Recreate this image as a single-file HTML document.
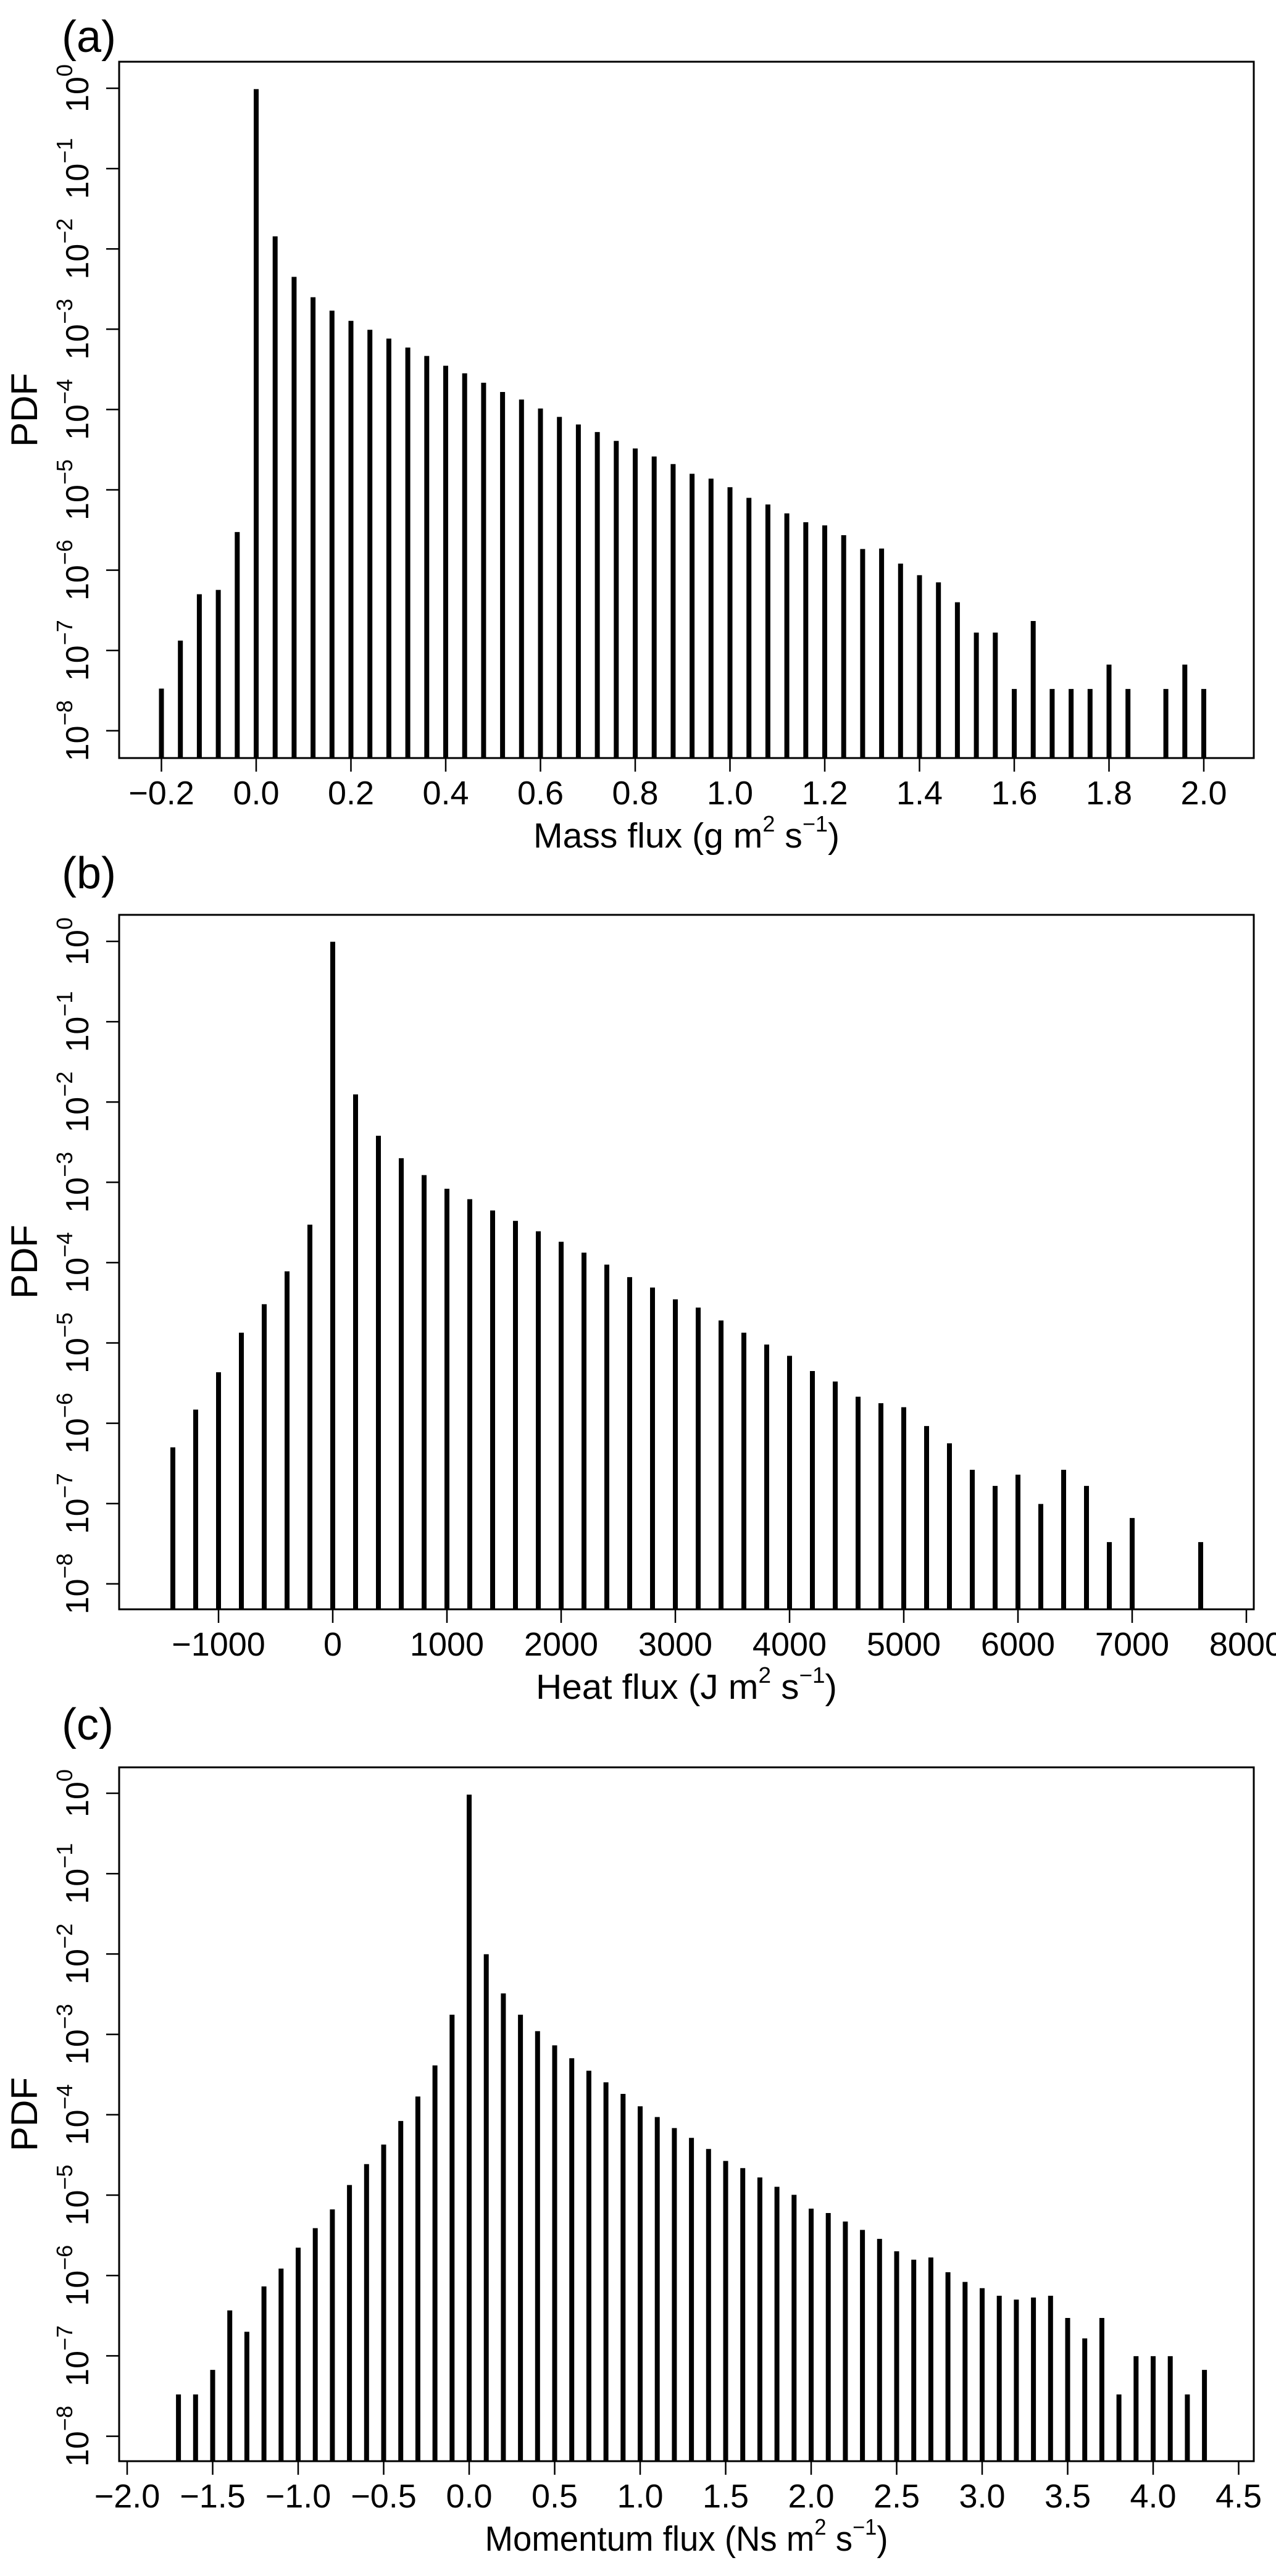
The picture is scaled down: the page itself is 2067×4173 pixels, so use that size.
<!DOCTYPE html>
<html><head><meta charset="utf-8"><style>
html,body{margin:0;padding:0;background:#fff}
svg{display:block}
text{font-family:"Liberation Sans",Arial,sans-serif;fill:#000}
</style></head><body>
<svg width="2067" height="4173" viewBox="0 0 2067 4173" xmlns="http://www.w3.org/2000/svg">
<rect width="2067" height="4173" fill="#fff"/>

<!-- ================= PANEL A ================= -->
<text x="100" y="84" font-size="72">(a)</text>
<rect x="193" y="100" width="1838" height="1128" fill="none" stroke="#000" stroke-width="3"/>
<g transform="translate(415,143) scale(767.5,-130.1)">
<path fill="none" stroke="#000" stroke-width="8" vector-effect="non-scaling-stroke" d="M-0.2 -8.34V-7.475M-0.16 -8.34V-6.877M-0.12 -8.34V-6.30M-0.08 -8.34V-6.246M-0.04 -8.34V-5.526M0 -8.34V-0.011M0.04 -8.34V-1.844M0.08 -8.34V-2.348M0.12 -8.34V-2.602M0.16 -8.34V-2.769M0.2 -8.34V-2.896M0.24 -8.34V-3.007M0.28 -8.34V-3.117M0.32 -8.34V-3.228M0.36 -8.34V-3.333M0.4 -8.34V-3.455M0.44 -8.34V-3.549M0.48 -8.34V-3.666M0.52 -8.34V-3.782M0.56 -8.34V-3.876M0.6 -8.34V-3.987M0.64 -8.34V-4.092M0.68 -8.34V-4.186M0.72 -8.34V-4.28M0.76 -8.34V-4.391M0.8 -8.34V-4.485M0.84 -8.34V-4.585M0.88 -8.34V-4.679M0.92 -8.34V-4.80M0.96 -8.34V-4.861M1 -8.34V-4.967M1.04 -8.34V-5.10M1.08 -8.34V-5.183M1.12 -8.34V-5.293M1.16 -8.34V-5.404M1.2 -8.34V-5.443M1.24 -8.34V-5.565M1.28 -8.34V-5.737M1.32 -8.34V-5.731M1.36 -8.34V-5.919M1.4 -8.34V-6.063M1.44 -8.34V-6.152M1.48 -8.34V-6.40M1.52 -8.34V-6.777M1.56 -8.34V-6.777M1.6 -8.34V-7.48M1.64 -8.34V-6.633M1.68 -8.34V-7.48M1.72 -8.34V-7.48M1.76 -8.34V-7.48M1.8 -8.34V-7.176M1.84 -8.34V-7.48M1.92 -8.34V-7.48M1.96 -8.34V-7.176M2 -8.34V-7.48"/>
</g>
<path stroke="#000" stroke-width="2.5" fill="none" d="M172 143H193M172 273.1H193M172 403.2H193M172 533.3H193M172 663.4H193M172 793.5H193M172 923.6H193M172 1053.7H193M172 1183.8H193
M261.5 1228V1250M415 1228V1250M568.5 1228V1250M722 1228V1250M875.5 1228V1250M1029 1228V1250M1182.5 1228V1250M1336 1228V1250M1489.5 1228V1250M1643 1228V1250M1796.5 1228V1250M1950 1228V1250"/>
<g font-size="54" text-anchor="middle">
<text x="261.5" y="1303">−0.2</text><text x="415" y="1303">0.0</text><text x="568.5" y="1303">0.2</text><text x="722" y="1303">0.4</text><text x="875.5" y="1303">0.6</text><text x="1029" y="1303">0.8</text><text x="1182.5" y="1303">1.0</text><text x="1336" y="1303">1.2</text><text x="1489.5" y="1303">1.4</text><text x="1643" y="1303">1.6</text><text x="1796.5" y="1303">1.8</text><text x="1950" y="1303">2.0</text>
</g>
<g font-size="52" text-anchor="middle">
<text transform="translate(143,143) rotate(-90)">10<tspan dy="-26" font-size="36">0</tspan></text>
<text transform="translate(143,273.1) rotate(-90)">10<tspan dy="-26" font-size="36">−1</tspan></text>
<text transform="translate(143,403.2) rotate(-90)">10<tspan dy="-26" font-size="36">−2</tspan></text>
<text transform="translate(143,533.3) rotate(-90)">10<tspan dy="-26" font-size="36">−3</tspan></text>
<text transform="translate(143,663.4) rotate(-90)">10<tspan dy="-26" font-size="36">−4</tspan></text>
<text transform="translate(143,793.5) rotate(-90)">10<tspan dy="-26" font-size="36">−5</tspan></text>
<text transform="translate(143,923.6) rotate(-90)">10<tspan dy="-26" font-size="36">−6</tspan></text>
<text transform="translate(143,1053.7) rotate(-90)">10<tspan dy="-26" font-size="36">−7</tspan></text>
<text transform="translate(143,1183.8) rotate(-90)">10<tspan dy="-26" font-size="36">−8</tspan></text>
</g>
<text transform="translate(60,664) rotate(-90)" font-size="60" text-anchor="middle">PDF</text>
<text x="1112" y="1373" font-size="57" text-anchor="middle" textLength="496" lengthAdjust="spacingAndGlyphs">Mass flux (g m<tspan dy="-26" font-size="36">2</tspan><tspan dy="26"> s</tspan><tspan dy="-26" font-size="36">−1</tspan><tspan dy="26">)</tspan></text>

<!-- ================= PANEL B ================= -->
<text x="100" y="1439" font-size="72">(b)</text>
<rect x="193" y="1482" width="1838" height="1125" fill="none" stroke="#000" stroke-width="3"/>
<g transform="translate(539,1525) scale(0.185,-130.1)">
<path fill="none" stroke="#000" stroke-width="8" vector-effect="non-scaling-stroke" d="M-1400 -8.317V-6.30M-1200 -8.317V-5.83M-1000 -8.317V-5.365M-800 -8.317V-4.872M-600 -8.317V-4.518M-400 -8.317V-4.108M-200 -8.317V-3.527M0 -8.317V-0.005M200 -8.317V-1.905M400 -8.317V-2.42M600 -8.317V-2.70M800 -8.317V-2.91M1000 -8.317V-3.08M1200 -8.317V-3.21M1400 -8.317V-3.35M1600 -8.317V-3.48M1800 -8.317V-3.61M2000 -8.317V-3.74M2200 -8.317V-3.876M2400 -8.317V-4.025M2600 -8.317V-4.18M2800 -8.317V-4.31M3000 -8.317V-4.457M3200 -8.317V-4.56M3400 -8.317V-4.72M3600 -8.317V-4.872M3800 -8.317V-5.02M4000 -8.317V-5.16M4200 -8.317V-5.35M4400 -8.317V-5.48M4600 -8.317V-5.67M4800 -8.317V-5.75M5000 -8.317V-5.80M5200 -8.317V-6.035M5400 -8.317V-6.25M5600 -8.317V-6.58M5800 -8.317V-6.78M6000 -8.317V-6.64M6200 -8.317V-7.005M6400 -8.317V-6.58M6600 -8.317V-6.78M6800 -8.317V-7.48M7000 -8.317V-7.18M7600 -8.317V-7.48"/>
</g>
<path stroke="#000" stroke-width="2.5" fill="none" d="M172 1525H193M172 1655.1H193M172 1785.2H193M172 1915.3H193M172 2045.4H193M172 2175.5H193M172 2305.6H193M172 2435.7H193M172 2565.8H193
M354 2607V2629M539 2607V2629M724 2607V2629M909 2607V2629M1094 2607V2629M1279 2607V2629M1464 2607V2629M1649 2607V2629M1834 2607V2629M2019 2607V2629"/>
<g font-size="54" text-anchor="middle">
<text x="354" y="2682">−1000</text><text x="539" y="2682">0</text><text x="724" y="2682">1000</text><text x="909" y="2682">2000</text><text x="1094" y="2682">3000</text><text x="1279" y="2682">4000</text><text x="1464" y="2682">5000</text><text x="1649" y="2682">6000</text><text x="1834" y="2682">7000</text><text x="2019" y="2682">8000</text>
</g>
<g font-size="52" text-anchor="middle">
<text transform="translate(143,1525) rotate(-90)">10<tspan dy="-26" font-size="36">0</tspan></text>
<text transform="translate(143,1655.1) rotate(-90)">10<tspan dy="-26" font-size="36">−1</tspan></text>
<text transform="translate(143,1785.2) rotate(-90)">10<tspan dy="-26" font-size="36">−2</tspan></text>
<text transform="translate(143,1915.3) rotate(-90)">10<tspan dy="-26" font-size="36">−3</tspan></text>
<text transform="translate(143,2045.4) rotate(-90)">10<tspan dy="-26" font-size="36">−4</tspan></text>
<text transform="translate(143,2175.5) rotate(-90)">10<tspan dy="-26" font-size="36">−5</tspan></text>
<text transform="translate(143,2305.6) rotate(-90)">10<tspan dy="-26" font-size="36">−6</tspan></text>
<text transform="translate(143,2435.7) rotate(-90)">10<tspan dy="-26" font-size="36">−7</tspan></text>
<text transform="translate(143,2565.8) rotate(-90)">10<tspan dy="-26" font-size="36">−8</tspan></text>
</g>
<text transform="translate(60,2044) rotate(-90)" font-size="60" text-anchor="middle">PDF</text>
<text x="1112" y="2752" font-size="57" text-anchor="middle" textLength="488" lengthAdjust="spacingAndGlyphs">Heat flux (J m<tspan dy="-26" font-size="36">2</tspan><tspan dy="26"> s</tspan><tspan dy="-26" font-size="36">−1</tspan><tspan dy="26">)</tspan></text>

<!-- ================= PANEL C ================= -->
<text x="100" y="2818" font-size="72">(c)</text>
<rect x="193" y="2863" width="1838" height="1124" fill="none" stroke="#000" stroke-width="3"/>
<g transform="translate(760,2905) scale(277,-130.2)">
<path fill="none" stroke="#000" stroke-width="8" vector-effect="non-scaling-stroke" d="M-1.7 -8.31V-7.48M-1.6 -8.31V-7.48M-1.5 -8.31V-7.175M-1.4 -8.31V-6.434M-1.3 -8.31V-6.70M-1.2 -8.31V-6.136M-1.1 -8.31V-5.914M-1 -8.31V-5.654M-0.9 -8.31V-5.411M-0.8 -8.31V-5.178M-0.7 -8.31V-4.874M-0.6 -8.31V-4.614M-0.5 -8.31V-4.371M-0.4 -8.31V-4.077M-0.3 -8.31V-3.773M-0.2 -8.31V-3.386M-0.1 -8.31V-2.755M0 -8.31V-0.017M0.1 -8.31V-2.003M0.2 -8.31V-2.49M0.3 -8.31V-2.755M0.4 -8.31V-2.96M0.5 -8.31V-3.137M0.6 -8.31V-3.297M0.7 -8.31V-3.452M0.8 -8.31V-3.596M0.9 -8.31V-3.74M1 -8.31V-3.895M1.1 -8.31V-4.028M1.2 -8.31V-4.166M1.3 -8.31V-4.288M1.4 -8.31V-4.426M1.5 -8.31V-4.575M1.6 -8.31V-4.664M1.7 -8.31V-4.78M1.8 -8.31V-4.896M1.9 -8.31V-4.996M2 -8.31V-5.168M2.1 -8.31V-5.223M2.2 -8.31V-5.328M2.3 -8.31V-5.433M2.4 -8.31V-5.544M2.5 -8.31V-5.699M2.6 -8.31V-5.804M2.7 -8.31V-5.776M2.8 -8.31V-5.959M2.9 -8.31V-6.08M3 -8.31V-6.158M3.1 -8.31V-6.252M3.2 -8.31V-6.30M3.3 -8.31V-6.274M3.4 -8.31V-6.252M3.5 -8.31V-6.528M3.6 -8.31V-6.783M3.7 -8.31V-6.528M3.8 -8.31V-7.48M3.9 -8.31V-7.004M4 -8.31V-7.004M4.1 -8.31V-7.004M4.2 -8.31V-7.48M4.3 -8.31V-7.175"/>
</g>
<path stroke="#000" stroke-width="2.5" fill="none" d="M172 2905H193M172 3035.2H193M172 3165.4H193M172 3295.6H193M172 3425.8H193M172 3556H193M172 3686.2H193M172 3816.4H193M172 3946.6H193
M206 3987V4009M344.5 3987V4009M483 3987V4009M621.5 3987V4009M760 3987V4009M898.5 3987V4009M1037 3987V4009M1175.5 3987V4009M1314 3987V4009M1452.5 3987V4009M1591 3987V4009M1729.5 3987V4009M1868 3987V4009M2006.5 3987V4009"/>
<g font-size="54" text-anchor="middle">
<text x="206" y="4062">−2.0</text><text x="344.5" y="4062">−1.5</text><text x="483" y="4062">−1.0</text><text x="621.5" y="4062">−0.5</text><text x="760" y="4062">0.0</text><text x="898.5" y="4062">0.5</text><text x="1037" y="4062">1.0</text><text x="1175.5" y="4062">1.5</text><text x="1314" y="4062">2.0</text><text x="1452.5" y="4062">2.5</text><text x="1591" y="4062">3.0</text><text x="1729.5" y="4062">3.5</text><text x="1868" y="4062">4.0</text><text x="2006.5" y="4062">4.5</text>
</g>
<g font-size="52" text-anchor="middle">
<text transform="translate(143,2905) rotate(-90)">10<tspan dy="-26" font-size="36">0</tspan></text>
<text transform="translate(143,3035.2) rotate(-90)">10<tspan dy="-26" font-size="36">−1</tspan></text>
<text transform="translate(143,3165.4) rotate(-90)">10<tspan dy="-26" font-size="36">−2</tspan></text>
<text transform="translate(143,3295.6) rotate(-90)">10<tspan dy="-26" font-size="36">−3</tspan></text>
<text transform="translate(143,3425.8) rotate(-90)">10<tspan dy="-26" font-size="36">−4</tspan></text>
<text transform="translate(143,3556) rotate(-90)">10<tspan dy="-26" font-size="36">−5</tspan></text>
<text transform="translate(143,3686.2) rotate(-90)">10<tspan dy="-26" font-size="36">−6</tspan></text>
<text transform="translate(143,3816.4) rotate(-90)">10<tspan dy="-26" font-size="36">−7</tspan></text>
<text transform="translate(143,3946.6) rotate(-90)">10<tspan dy="-26" font-size="36">−8</tspan></text>
</g>
<text transform="translate(60,3425) rotate(-90)" font-size="60" text-anchor="middle">PDF</text>
<text x="1112" y="4132" font-size="57" text-anchor="middle" textLength="653" lengthAdjust="spacingAndGlyphs">Momentum flux (Ns m<tspan dy="-26" font-size="36">2</tspan><tspan dy="26"> s</tspan><tspan dy="-26" font-size="36">−1</tspan><tspan dy="26">)</tspan></text>
</svg>
</body></html>
